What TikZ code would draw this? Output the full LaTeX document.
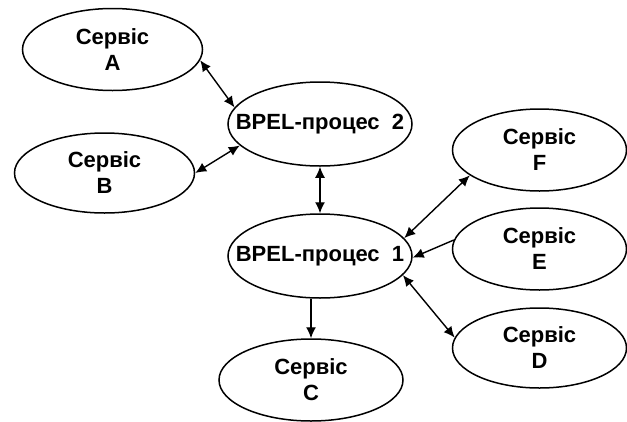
\documentclass[tikz,border=0pt]{standalone}
\usepackage{fontspec}
\setmainfont{Liberation Sans}
\usetikzlibrary{shapes.geometric,arrows.meta}
\begin{document}
\begin{tikzpicture}[x=1pt,y=-1pt,
  svc/.style={ellipse,draw,line width=1.5pt,inner sep=0pt,
    minimum width=180pt,minimum height=82pt,align=center,
    font=\bfseries\fontsize{22}{26}\selectfont},
  proc/.style={svc,minimum width=184pt,minimum height=84pt},
  link/.style={line width=1.4pt,{Latex[length=11pt,width=10pt]}-{Latex[length=11pt,width=10pt]}},
  onew/.style={line width=1.4pt,-{Latex[length=11pt,width=10pt]}}]
\useasboundingbox (0,0) rectangle (627,421);
% services and processes
\node[svc] (A) at (112.5,49.5) {Сервіс\\A};
\node[svc,minimum height=80pt] (B) at (104.5,173) {Сервіс\\B};
\node[proc] (P2) at (320,124) {\makebox[0pt]{BPEL-процес~~2}};
\node[proc] (P1) at (320,256) {\makebox[0pt]{BPEL-процес~~1}};
\node[svc,minimum width=174pt] (F) at (539.5,150) {Сервіс\\F};
\node[svc,minimum width=174pt] (E) at (539.5,249) {Сервіс\\E};
\node[svc,minimum width=174pt,minimum height=80pt] (D) at (539.5,348) {Сервіс\\D};
\node[svc,minimum width=184pt] (C) at (311,380) {Сервіс\\C};
% connectors
\draw[link] (A.-7) -- (P2.169);
\draw[link] (B.0) -- (P2.195);
\draw[link] (P2.south) -- (P1.north);
\draw[link] (P1.12) -- (F.200);
\draw[onew] (E.174) -- (P1.-1);
\draw[link] (P1.-13) -- (D.173);
\draw[onew] (C.north |- P1.south) -- (C.north);
\end{tikzpicture}
\end{document}
